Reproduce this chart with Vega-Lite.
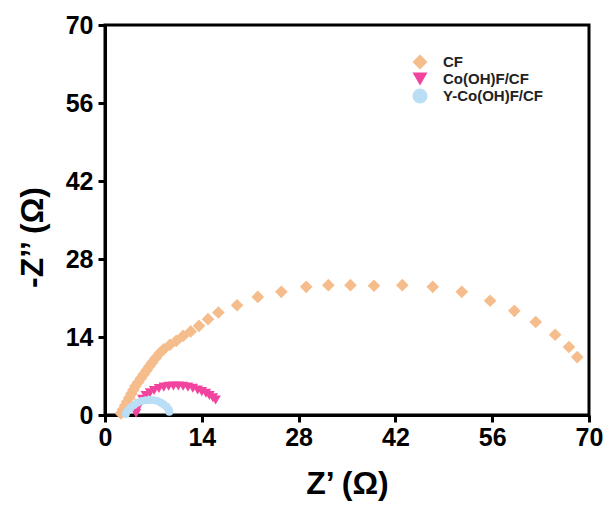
{
  "$schema": "https://vega.github.io/schema/vega-lite/v6.json",
  "width": 484,
  "height": 390,
  "autosize": {"type": "none"},
  "padding": {"left": 105, "top": 25, "right": 19, "bottom": 93},
  "background": "white",
  "config": {
    "view": {"stroke": "black", "strokeWidth": 3},
    "font": "Liberation Sans",
    "legend": {
      "title": null,
      "orient": "none",
      "legendX": 307.5,
      "legendY": 29.5,
      "padding": 0,
      "symbolSize": 225,
      "symbolStrokeWidth": 0,
      "rowPadding": 1,
      "labelOffset": 15.5,
      "labelFont": "Liberation Sans",
      "labelFontWeight": "bold",
      "labelFontSize": 15,
      "labelColor": "#222222"
    }
  },
  "data": {
    "values": [
      {"series": "CF", "zr": 2.3, "zi": 0.3},
      {"series": "CF", "zr": 2.6, "zi": 1.0},
      {"series": "CF", "zr": 2.9, "zi": 1.7},
      {"series": "CF", "zr": 3.2, "zi": 2.4},
      {"series": "CF", "zr": 3.5, "zi": 3.1},
      {"series": "CF", "zr": 3.8, "zi": 3.8},
      {"series": "CF", "zr": 4.1, "zi": 4.5},
      {"series": "CF", "zr": 4.4, "zi": 5.2},
      {"series": "CF", "zr": 4.8, "zi": 5.9},
      {"series": "CF", "zr": 5.2, "zi": 6.6},
      {"series": "CF", "zr": 5.6, "zi": 7.3},
      {"series": "CF", "zr": 6.0, "zi": 8.0},
      {"series": "CF", "zr": 6.4, "zi": 8.7},
      {"series": "CF", "zr": 6.8, "zi": 9.4},
      {"series": "CF", "zr": 7.3, "zi": 10.2},
      {"series": "CF", "zr": 7.9, "zi": 11.1},
      {"series": "CF", "zr": 8.5, "zi": 11.8},
      {"series": "CF", "zr": 9.4, "zi": 12.6},
      {"series": "CF", "zr": 10.3, "zi": 13.3},
      {"series": "CF", "zr": 11.3, "zi": 14.2},
      {"series": "CF", "zr": 12.4, "zi": 15.0},
      {"series": "CF", "zr": 13.6, "zi": 16.0},
      {"series": "CF", "zr": 14.9, "zi": 17.2},
      {"series": "CF", "zr": 16.4, "zi": 18.4},
      {"series": "CF", "zr": 19.1, "zi": 19.7},
      {"series": "CF", "zr": 22.1, "zi": 21.2},
      {"series": "CF", "zr": 25.5, "zi": 22.1},
      {"series": "CF", "zr": 29.1, "zi": 23.0},
      {"series": "CF", "zr": 32.3, "zi": 23.3},
      {"series": "CF", "zr": 35.5, "zi": 23.3},
      {"series": "CF", "zr": 38.9, "zi": 23.2},
      {"series": "CF", "zr": 43.0, "zi": 23.3},
      {"series": "CF", "zr": 47.4, "zi": 23.0},
      {"series": "CF", "zr": 51.6, "zi": 22.1},
      {"series": "CF", "zr": 55.7, "zi": 20.5},
      {"series": "CF", "zr": 59.2, "zi": 18.7},
      {"series": "CF", "zr": 62.3, "zi": 16.7},
      {"series": "CF", "zr": 65.1, "zi": 14.4},
      {"series": "CF", "zr": 67.1, "zi": 12.2},
      {"series": "CF", "zr": 68.3, "zi": 10.4},
      {"series": "Co(OH)F/CF", "zr": 4.5, "zi": 0.3},
      {"series": "Co(OH)F/CF", "zr": 4.7, "zi": 1.2},
      {"series": "Co(OH)F/CF", "zr": 5.0, "zi": 2.0},
      {"series": "Co(OH)F/CF", "zr": 5.4, "zi": 2.8},
      {"series": "Co(OH)F/CF", "zr": 5.9, "zi": 3.5},
      {"series": "Co(OH)F/CF", "zr": 6.5, "zi": 4.0},
      {"series": "Co(OH)F/CF", "zr": 7.1, "zi": 4.4},
      {"series": "Co(OH)F/CF", "zr": 7.8, "zi": 4.75},
      {"series": "Co(OH)F/CF", "zr": 8.5, "zi": 5.0},
      {"series": "Co(OH)F/CF", "zr": 9.2, "zi": 5.15},
      {"series": "Co(OH)F/CF", "zr": 9.9, "zi": 5.2},
      {"series": "Co(OH)F/CF", "zr": 10.6, "zi": 5.2},
      {"series": "Co(OH)F/CF", "zr": 11.3, "zi": 5.15},
      {"series": "Co(OH)F/CF", "zr": 12.0, "zi": 5.0},
      {"series": "Co(OH)F/CF", "zr": 12.7, "zi": 4.8},
      {"series": "Co(OH)F/CF", "zr": 13.4, "zi": 4.5},
      {"series": "Co(OH)F/CF", "zr": 14.0, "zi": 4.2},
      {"series": "Co(OH)F/CF", "zr": 14.6, "zi": 3.9},
      {"series": "Co(OH)F/CF", "zr": 15.1, "zi": 3.5},
      {"series": "Co(OH)F/CF", "zr": 15.6, "zi": 3.1},
      {"series": "Co(OH)F/CF", "zr": 16.0, "zi": 2.7},
      {"series": "Y-Co(OH)F/CF", "zr": 3.0, "zi": 0.2},
      {"series": "Y-Co(OH)F/CF", "zr": 3.3, "zi": 0.8},
      {"series": "Y-Co(OH)F/CF", "zr": 3.7, "zi": 1.3},
      {"series": "Y-Co(OH)F/CF", "zr": 4.2, "zi": 1.8},
      {"series": "Y-Co(OH)F/CF", "zr": 4.7, "zi": 2.2},
      {"series": "Y-Co(OH)F/CF", "zr": 5.3, "zi": 2.5},
      {"series": "Y-Co(OH)F/CF", "zr": 5.9, "zi": 2.65},
      {"series": "Y-Co(OH)F/CF", "zr": 6.5, "zi": 2.7},
      {"series": "Y-Co(OH)F/CF", "zr": 7.1, "zi": 2.65},
      {"series": "Y-Co(OH)F/CF", "zr": 7.6, "zi": 2.5},
      {"series": "Y-Co(OH)F/CF", "zr": 8.1, "zi": 2.2},
      {"series": "Y-Co(OH)F/CF", "zr": 8.5, "zi": 1.9},
      {"series": "Y-Co(OH)F/CF", "zr": 8.9, "zi": 1.5},
      {"series": "Y-Co(OH)F/CF", "zr": 9.2, "zi": 1.0},
      {"series": "Y-Co(OH)F/CF", "zr": 9.3, "zi": 0.6}
    ]
  },
  "encoding": {
    "x": {
      "field": "zr",
      "type": "quantitative",
      "scale": {"domain": [0, 70], "nice": false, "zero": false},
      "axis": {
        "title": "Z’ (Ω)",
        "values": [0, 14, 28, 42, 56, 70],
        "grid": false,
        "domainColor": "black",
        "domainWidth": 3,
        "tickColor": "black",
        "tickWidth": 3,
        "tickSize": 7,
        "labelFont": "Liberation Sans",
        "labelFontWeight": "bold",
        "labelFontSize": 25,
        "labelColor": "black",
        "labelPadding": 3,
        "labelFlush": false,
        "titleFont": "Liberation Sans",
        "titleFontWeight": "bold",
        "titleFontSize": 32,
        "titleColor": "black",
        "titlePadding": 18
      }
    },
    "y": {
      "field": "zi",
      "type": "quantitative",
      "scale": {"domain": [0, 70], "nice": false, "zero": false},
      "axis": {
        "title": "-Z’’ (Ω)",
        "values": [0, 14, 28, 42, 56, 70],
        "grid": false,
        "domainColor": "black",
        "domainWidth": 3,
        "tickColor": "black",
        "tickWidth": 3,
        "tickSize": 7,
        "labelFont": "Liberation Sans",
        "labelFontWeight": "bold",
        "labelFontSize": 25,
        "labelColor": "black",
        "labelPadding": 5,
        "labelFlush": false,
        "titleFont": "Liberation Sans",
        "titleFontWeight": "bold",
        "titleFontSize": 32,
        "titleColor": "black",
        "titleX": -63,
        "titleY": 212,
        "titleBaseline": "alphabetic"
      }
    },
    "color": {
      "field": "series",
      "type": "nominal",
      "scale": {
        "domain": ["CF", "Co(OH)F/CF", "Y-Co(OH)F/CF"],
        "range": ["#F6BD8C", "#F2449E", "#B9DEF6"]
      }
    },
    "shape": {
      "field": "series",
      "type": "nominal",
      "scale": {
        "domain": ["CF", "Co(OH)F/CF", "Y-Co(OH)F/CF"],
        "range": ["diamond", "triangle-down", "circle"]
      }
    }
  },
  "layer": [
    {
      "transform": [{"filter": "datum.series === 'CF'"}],
      "mark": {"type": "point", "filled": true, "opacity": 1, "size": 160}
    },
    {
      "transform": [{"filter": "datum.series === 'Co(OH)F/CF'"}],
      "mark": {"type": "point", "filled": true, "opacity": 1, "size": 110}
    },
    {
      "transform": [{"filter": "datum.series === 'Y-Co(OH)F/CF'"}],
      "mark": {"type": "point", "filled": true, "opacity": 1, "size": 64}
    }
  ]
}
